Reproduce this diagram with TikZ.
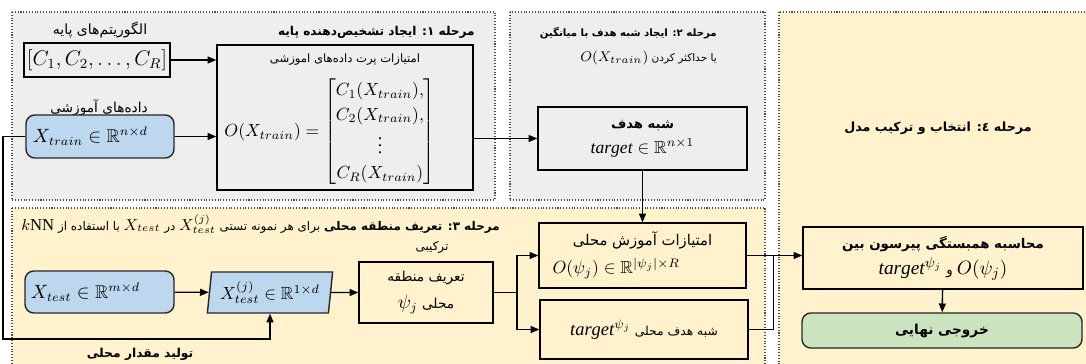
\documentclass[tikz,border=0pt]{standalone}
\usepackage{amsmath,amssymb}
\usepackage{fontspec}
\setmainfont{Liberation Serif}
\newfontfamily\fa[Script=Arabic]{DejaVu Sans}
\TeXXeTstate=1
\usetikzlibrary{positioning,shapes.geometric,arrows.meta}
\definecolor{panelgray}{HTML}{EEEEEE}
\definecolor{panelcream}{HTML}{FFF2CC}
\definecolor{boxblue}{HTML}{BDD7EE}
\definecolor{boxgreen}{HTML}{CBE3BF}
\newcommand{\fatxt}[2][7.2]{{\fa\fontsize{#1}{#1}\selectfont\beginR#2\endR}}
\newcommand{\fabf}[2][7]{{\fa\bfseries\fontsize{#1}{#1}\selectfont\beginR#2\endR}}
\newcommand{\mth}[2][10]{{\fontsize{#1}{#1}\selectfont$#2$}}
\tikzset{
  stagepanel/.style={draw=black!70,densely dotted,line width=0.6pt},
  wh/.style 2 args={minimum width=#1*0.02cm,minimum height=#2*0.02cm},
  plainbox/.style={draw,line width=0.8pt,align=center,inner sep=1pt},
  roundbox/.style={plainbox,rounded corners=5pt,draw=black!85},
  parabox/.style={plainbox,trapezium,trapezium left angle=82,trapezium right angle=98,trapezium stretches=true,draw=black!85},
  flow/.style={line width=0.8pt,-{Triangle[length=5pt,width=4pt]}}
}
\begin{document}
\begin{tikzpicture}[x=0.02cm,y=-0.02cm]
  \useasboundingbox (0,0) rectangle (1086,364);
  \foreach \xa/\ya/\xb/\yb/\col in {12/12/495/200/panelgray,510/12/765/200/panelgray,12/208/765/372/panelcream,779/12/1092/372/panelcream}{%
    \draw[stagepanel,fill=\col] (\xa,\ya) rectangle (\xb,\yb);
  }
  % stage 1
  \node (algtitle) at (100,30) {\fatxt[8]{الگوریتم^^^^200cهای پایه}};
  \node[plainbox,wh={146}{34},fill=panelgray] (algs) at (97,60) {\fontsize{12}{14}\selectfont$[C_1,C_2,\ldots,C_R]$};
  \node (traintitle) at (99,108) {\fatxt[7.8]{داده^^^^200cهای آموزشی}};
  \node[roundbox,wh={148}{43},fill=boxblue] (xtrain) at (100,136.5) {\mth[10.5]{X_{train}\in\mathbb{R}^{n\times d}}\hspace*{11pt}};
  \node[plainbox,wh={256}{145},fill=panelgray] (obox) at (345,117.5) {};
  \node (otitle) at (345,60) {\fatxt[6.6]{امتیازات پرت داده^^^^200cهای اموزشی}};
  \node (oform) at (330,132) {\fontsize{10}{14}\selectfont$O(X_{train})=\begin{bmatrix}C_1(X_{train}),\\C_2(X_{train}),\\\vdots\\C_R(X_{train})\end{bmatrix}$};
  \node[anchor=east] (s1title) at (481,32) {\fabf[6.9]{مرحله ۱: ایجاد تشخیص^^^^200cدهنده پایه}};
  % stage 2
  \node[anchor=east] (s2title) at (723,33) {\fabf[5.8]{مرحله ۲: ایجاد شبه هدف با میانگین}};
  \node[anchor=east] (s2sub) at (723,58) {\fatxt[6]{یا حداکثر کردن \mth[8.5]{O(X_{train})}}};
  \node[plainbox,wh={209}{63},fill=panelgray] (target) at (642.5,138.5) {\fabf[7.5]{شبه هدف}\\[2pt]\mth{\mathit{target}\in\mathbb{R}^{n\times 1}}};
  % stage 3
  \node[anchor=east] (s3title) at (506,224) {\fatxt[6.8]{\textbf{مرحله ۳: تعریف منطقه محلی} برای هر نمونه تستی \mth[9]{X_{test}^{(j)}} در \mth[9]{X_{test}} با استفاده از \beginL\mth[9.5]{k}{\rmfamily\fontsize{9.5}{9.5}\selectfont NN}\endL}};
  \node (s3sub) at (432,247) {\fatxt[6.8]{ترکیبی}};
  \node[roundbox,wh={149}{42},fill=boxblue] (xtest) at (99.5,292) {\mth[10.5]{X_{test}\in\mathbb{R}^{m\times d}}\hspace*{16pt}};
  \node[parabox,wh={126}{41},fill=boxblue] (xtestj) at (270,292.5) {\mth{X_{test}^{(j)}\in\mathbb{R}^{1\times d}}};
  \node[plainbox,wh={134}{61},fill=panelcream] (region) at (426,292.5) {\fatxt[7.8]{تعریف منطقه}\\[3pt]\fatxt[7.8]{محلی \mth[10.5]{\psi_j}}};
  \coordinate (split) at (517,292.5);
  \node[plainbox,wh={207}{65},fill=panelcream] (lscore) at (642.5,255.5) {\fatxt[8.4]{امتیازات آموزش محلی}\\[4pt]\mth{O(\psi_j)\in\mathbb{R}^{|\psi_j|\times R}}\hspace*{30pt}};
  \node[plainbox,wh={208}{59},fill=panelcream] (ltarget) at (644,329.5) {\fatxt[7]{شبه هدف محلی \mth[10.5]{\mathit{target}^{\psi_j}}}};
  \coordinate (back) at (3,339);
  \node (backlabel) at (140,354) {\fabf{تولید مقدار محلی}};
  % stage 4
  \node (s4title) at (938,128) {\fabf[7.2]{مرحله ٤: انتخاب و ترکیب مدل}};
  \node[plainbox,wh={280}{62},fill=panelcream] (pearson) at (943,258) {\fabf[7.6]{محاسبه همبستگی پیرسون بین}\\[3pt]\fatxt[7.6]{\mth[11]{O(\psi_j)} و \mth[11]{\mathit{target}^{\psi_j}}}};
  \node[roundbox,wh={280}{35},fill=boxgreen] (final) at (942,330.5) {\fabf[7.8]{خروجی نهایی}};
  \coordinate[right=0.54cm of lscore.east] (join);
  % connectors
  \draw[flow] (algs) -- (algs -| obox.west);
  \draw[flow] (xtrain) -- (xtrain -| obox.west);
  \draw[flow] (obox.east |- target) -- (target);
  \draw[flow] (target) -- (lscore);
  \draw[flow] (xtest) -- (xtestj);
  \draw[flow] (xtestj) -- (region);
  \draw[line width=0.8pt] (region) -- (split);
  \draw[flow] (split) |- (lscore);
  \draw[flow] (split) |- (ltarget);
  \draw[flow] (lscore) -- (lscore -| pearson.west);
  \draw[line width=0.8pt] (ltarget) -| (join);
  \draw[flow] (pearson) -- (final);
  \draw[flow] (xtrain.west) -| (back) -| (xtestj.south);
\end{tikzpicture}
\end{document}
